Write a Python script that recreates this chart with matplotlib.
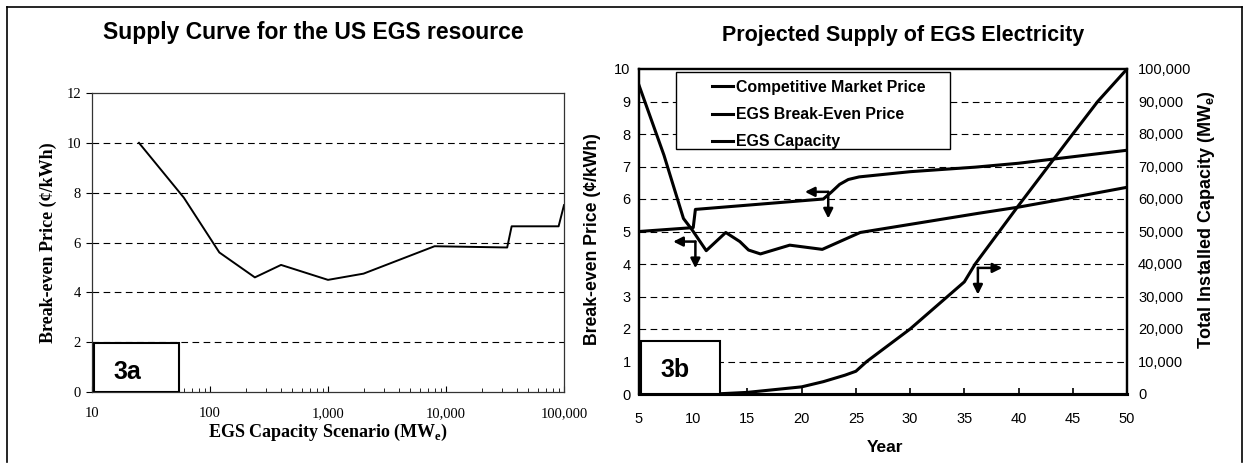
import matplotlib.pyplot as plt
from matplotlib.ticker import FuncFormatter, FixedLocator, LogLocator, NullFormatter
from matplotlib.patches import Rectangle
from matplotlib.lines import Line2D

# Panel 3a: supply curve for the US EGS resource
supply_mw = [25, 60, 120, 240, 400, 1000, 2000, 8000, 33000, 36000, 90000, 100000]
supply_price = [10.0, 7.8, 5.6, 4.6, 5.1, 4.5, 4.75, 5.85, 5.8, 6.65, 6.65, 7.5]
supply_xticks = [10, 100, 1000, 10000, 100000]

# Panel 3b: projected supply of EGS electricity
market_years = [5, 10, 10.2, 22, 22.7, 23.5, 24.3, 25.3, 30, 36, 40, 45, 50]
market_price = [5.0, 5.12, 5.68, 6.0, 6.2, 6.45, 6.6, 6.68, 6.84, 6.98, 7.1, 7.3, 7.5]

be_years = [5, 7.3, 9.1, 9.9, 11.2, 13.0, 14.3, 15.1, 16.2, 18.9, 21.9, 25.4, 36.3, 40, 45, 50]
be_price = [9.5, 7.35, 5.4, 5.05, 4.41, 4.97, 4.69, 4.43, 4.31, 4.58, 4.45, 4.97, 5.56, 5.75, 6.05, 6.36]

cap_years = [5, 12, 15, 20, 22, 24, 25, 26, 30, 35, 36, 40, 45, 47.3, 50]
cap_mw = [0, 0, 500, 2200, 3800, 5800, 7000, 10000, 20000, 34500, 40000, 58000, 80000, 90000, 100000]

legend_labels = ["Competitive Market Price", "EGS Break-Even Price", "EGS Capacity"]

# arrow corners (year, price) and length of the horizontal arrow
arrow_corners = [(10.2, 4.69, -2.05), (22.45, 6.22, -2.15), (36.25, 3.88, 2.25)]
arrow_drop = 0.82

SERIF = "Liberation Serif"
SANS = "Liberation Sans"
comma = FuncFormatter(lambda v, p: f"{int(v):,}")
dash = (0, (6, 4))
arrow_style = dict(arrowstyle="-|>", lw=1.8, color="black",
                   mutation_scale=14, shrinkA=0, shrinkB=0)

fig = plt.figure(figsize=(12.44, 4.68), dpi=100)

# ---------------- left panel ----------------
ax1 = fig.add_axes([92 / 1244, 1 - 392 / 468, 472 / 1244, 299 / 468])
ax1.plot(supply_mw, supply_price, color="black", lw=1.4)
ax1.set_xscale("log")
ax1.set_xlim(10, 100000)
ax1.set_ylim(0, 12)
ax1.xaxis.set_major_locator(FixedLocator(supply_xticks))
ax1.xaxis.set_major_formatter(comma)
ax1.xaxis.set_minor_locator(LogLocator(base=10, subs=range(2, 10)))
ax1.xaxis.set_minor_formatter(NullFormatter())
ax1.set_yticks(range(0, 13, 2))
for y in range(2, 12, 2):
    ax1.axhline(y, color="black", lw=0.8, ls=dash, zorder=0)
for s in ax1.spines.values():
    s.set_linewidth(0.9)
    s.set_color("#333333")
ax1.tick_params(axis="x", which="both", direction="in", length=4, pad=11)
ax1.tick_params(axis="x", which="minor", length=3)
ax1.tick_params(axis="y", direction="out", length=4, pad=4)
ax1.tick_params(axis="both", labelsize=10.5, labelfontfamily=SERIF)
ax1.set_ylabel("Break-even Price (¢/kWh)", family=SERIF, fontsize=13, weight="bold")
ax1.yaxis.set_label_coords(-0.074, 0.5)
ax1.set_xlabel("EGS Capacity Scenario (MW$_\\mathregular{e}$)", family=SERIF,
               fontsize=13, weight="bold")
ax1.xaxis.set_label_coords(0.5, -0.10)
ax1.add_patch(Rectangle((0.004, 0.0), 0.18, 0.163, transform=ax1.transAxes,
                        facecolor="white", edgecolor="black", lw=1.5, zorder=3))
ax1.text(0.074, 0.068, "3a", transform=ax1.transAxes, family=SANS, weight="bold",
         fontsize=18, ha="center", va="center", zorder=4)

# ---------------- right panel ----------------
ax2 = fig.add_axes([639 / 1244, 1 - 394 / 468, 488 / 1244, 325 / 468])
ax3 = ax2.twinx()
l1, = ax2.plot(market_years, market_price, color="black", lw=2.2)
l2, = ax2.plot(be_years, be_price, color="black", lw=2.2)
l3, = ax3.plot(cap_years, cap_mw, color="black", lw=2.2)
ax2.set_xlim(5, 50)
ax2.set_ylim(0, 10)
ax3.set_ylim(0, 100000)
ax2.set_xticks(range(5, 51, 5))
ax2.set_yticks(range(0, 11))
ax3.set_yticks(range(0, 100001, 10000))
ax3.yaxis.set_major_formatter(comma)
for y in range(1, 10):
    ax2.axhline(y, color="black", lw=0.8, ls=dash, zorder=0)
for a in (ax2, ax3):
    for s in a.spines.values():
        s.set_linewidth(1.6)
    a.spines["bottom"].set_linewidth(2.2)
ax2.tick_params(axis="x", direction="in", length=4, width=1.2, pad=13)
ax2.tick_params(axis="y", direction="in", length=0, pad=6)
ax3.tick_params(axis="y", direction="in", length=0, pad=8)
for a in (ax2, ax3):
    a.tick_params(labelsize=10.5, labelfontfamily=SANS)
ax2.set_ylabel("Break-even Price (¢/kWh)", family=SANS, fontsize=12.7, weight="bold")
ax2.yaxis.set_label_coords(-0.078, 0.478)
ax3.set_ylabel("Total Installed Capacity (MW$_\\mathregular{e}$)", family=SANS,
               fontsize=13, weight="bold")
ax3.yaxis.set_label_coords(1.141, 0.535)
ax2.set_xlabel("Year", family=SANS, fontsize=12.5, weight="bold")
ax2.xaxis.set_label_coords(0.504, -0.141)

for x, y, dx in arrow_corners:
    ax2.annotate("", xy=(x + dx, y), xytext=(x, y), arrowprops=arrow_style)
    ax2.annotate("", xy=(x, y - arrow_drop), xytext=(x, y), arrowprops=arrow_style)

# legend box drawn as a white panel over the grid
ax2.add_patch(Rectangle((0.076, 0.754), 0.561, 0.237, transform=ax2.transAxes,
                        facecolor="white", edgecolor="black", lw=1.0, zorder=5))
leg = ax2.legend([l1, l2, l3], legend_labels, loc="upper left",
                 bbox_to_anchor=(0.121, 1.01), frameon=False, handlelength=1.3,
                 handletextpad=0.2, labelspacing=0.77,
                 prop={"family": SANS, "weight": "bold", "size": 11.4})
leg.set_zorder(6)

ax2.add_patch(Rectangle((0.004, 0.0), 0.163, 0.162, transform=ax2.transAxes,
                        facecolor="white", edgecolor="black", lw=1.5, zorder=3))
ax2.text(0.074, 0.075, "3b", transform=ax2.transAxes, family=SANS, weight="bold",
         fontsize=18, ha="center", va="center", zorder=4)
ax2.set_zorder(ax3.get_zorder() + 1)
ax2.patch.set_visible(False)

# titles
fig.text(313 / 1244, 1 - 33 / 468, "Supply Curve for the US EGS resource",
         family=SANS, weight="bold", fontsize=16.5, ha="center", va="center")
fig.text(903 / 1244, 1 - 36 / 468, "Projected Supply of EGS Electricity",
         family=SANS, weight="bold", fontsize=15.5, ha="center", va="center")

# outer frame
for xs, ys in [([7, 7], [7, 462]), ([7, 1242], [7, 7]), ([1242, 1242], [7, 462])]:
    fig.add_artist(Line2D([x / 1244 for x in xs], [1 - y / 468 for y in ys],
                          color="black", lw=1.2))

fig.savefig("out.png", dpi=100)
